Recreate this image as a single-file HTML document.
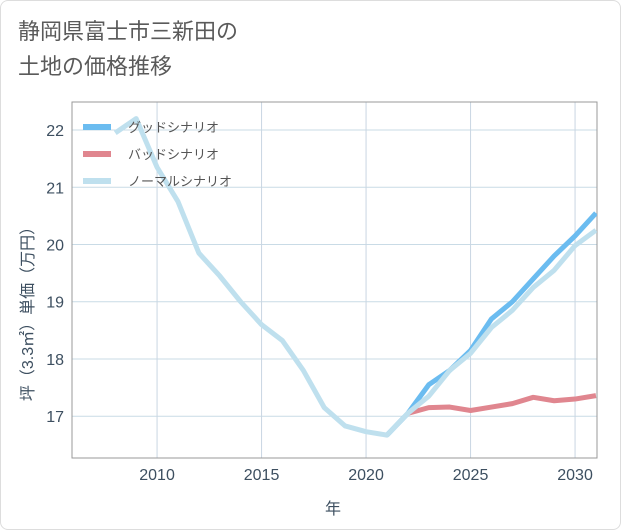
<!DOCTYPE html>
<html><head><meta charset="utf-8"><style>
body{margin:0;background:#fff;font-family:"Liberation Sans","Noto Sans CJK JP",sans-serif;}
#card{position:absolute;left:0;top:0;width:619px;height:528px;border:1px solid #ddd;border-radius:8px;background:#fff;}
#title{position:absolute;left:18px;top:14px;font-size:22px;line-height:35px;color:#5a5a5a;}
svg{position:absolute;left:0;top:0}
</style></head><body>
<div id="card"></div>
<div id="title">静岡県富士市三新田の<br>土地の価格推移</div>
<svg id="chart" width="621" height="530"></svg>
<script>
const years=[2008,2009,2010,2011,2012,2013,2014,2015,2016,2017,2018,2019,2020,2021,2022,2023,2024,2025,2026,2027,2028,2029,2030,2031];
const normal=[21.95,22.2,21.35,20.75,19.85,19.45,19.0,18.6,18.32,17.8,17.15,16.83,16.73,16.67,17.05,17.35,17.8,18.1,18.55,18.85,19.25,19.55,19.98,20.25];
const goodYears=[2021,2022,2023,2024,2025,2026,2027,2028,2029,2030,2031];
const good=[16.67,17.05,17.55,17.8,18.15,18.7,19.0,19.4,19.8,20.15,20.55];
const badYears=[2022,2023,2024,2025,2026,2027,2028,2029,2030,2031];
const bad=[17.05,17.15,17.16,17.1,17.16,17.22,17.33,17.27,17.3,17.36];
const xTicks=[2010,2015,2020,2025,2030];
const yTicks=[17,18,19,20,21,22];
const L=72,R=597,T=102,B=458,x0=2005.93,x1=2031.05,y0=16.27,y1=22.49;
const X=v=>L+(v-x0)/(x1-x0)*(R-L);
const Y=v=>B-(v-y0)/(y1-y0)*(B-T);
const svg=document.getElementById('chart');const NS='http://www.w3.org/2000/svg';
function el(t,a,p){const e=document.createElementNS(NS,t);for(const k in a)e.setAttribute(k,a[k]);(p||svg).appendChild(e);return e;}
const defs=el('defs',{});const cp=el('clipPath',{id:'cp'},defs);el('rect',{x:L,y:T,width:R-L,height:B-T},cp);
const TC='#3d4f60';
yTicks.forEach(v=>{const g=el('line',{x1:L,x2:R,y1:Y(v),y2:Y(v),stroke:'#c9dbe6','stroke-width':1});

const t=el('text',{x:L-8,y:Y(v)+6,'text-anchor':'end','font-size':16,fill:TC});t.textContent=v;
});
xTicks.forEach(v=>{const g=el('line',{x1:X(v),x2:X(v),y1:T,y2:B,stroke:'#c9d6e2','stroke-width':1});

const t=el('text',{x:X(v),y:B+22,'text-anchor':'middle','font-size':16,fill:TC});t.textContent=v;
});
const fr=el('rect',{x:L,y:T,width:R-L,height:B-T,fill:'none',stroke:'#999','stroke-width':1});

function line(xs,ys,c,n){const p=el('polyline',{points:xs.map((v,i)=>X(v)+','+Y(ys[i])).join(' '),fill:'none',stroke:c,'stroke-width':5,'stroke-linejoin':'round','clip-path':'url(#cp)'});
}
line(goodYears,good,'#6bbcf0','good-scenario-line');
line(badYears,bad,'#e0868f','bad-scenario-line');
line(years,normal,'#bfe0ee','normal-scenario-line');
const leg=[['グッドシナリオ','#6bbcf0'],['バッドシナリオ','#e0868f'],['ノーマルシナリオ','#bfe0ee']];
leg.forEach((d,i)=>{const y=127+i*27;const r=el('rect',{x:83,y:y-3,width:28,height:6,fill:d[1]});

const t=el('text',{x:128,y:y+5,'font-size':13,fill:'#555'});t.textContent=d[0];
});
const xt=el('text',{x:333,y:514,'text-anchor':'middle','font-size':16,fill:TC});xt.textContent='年';

const yt=el('text',{x:0,y:0,'text-anchor':'middle','font-size':16,fill:TC,transform:'translate(33,310) rotate(-90)'});yt.textContent='坪（3.3㎡）単価（万円）';

</script>
</body></html>
